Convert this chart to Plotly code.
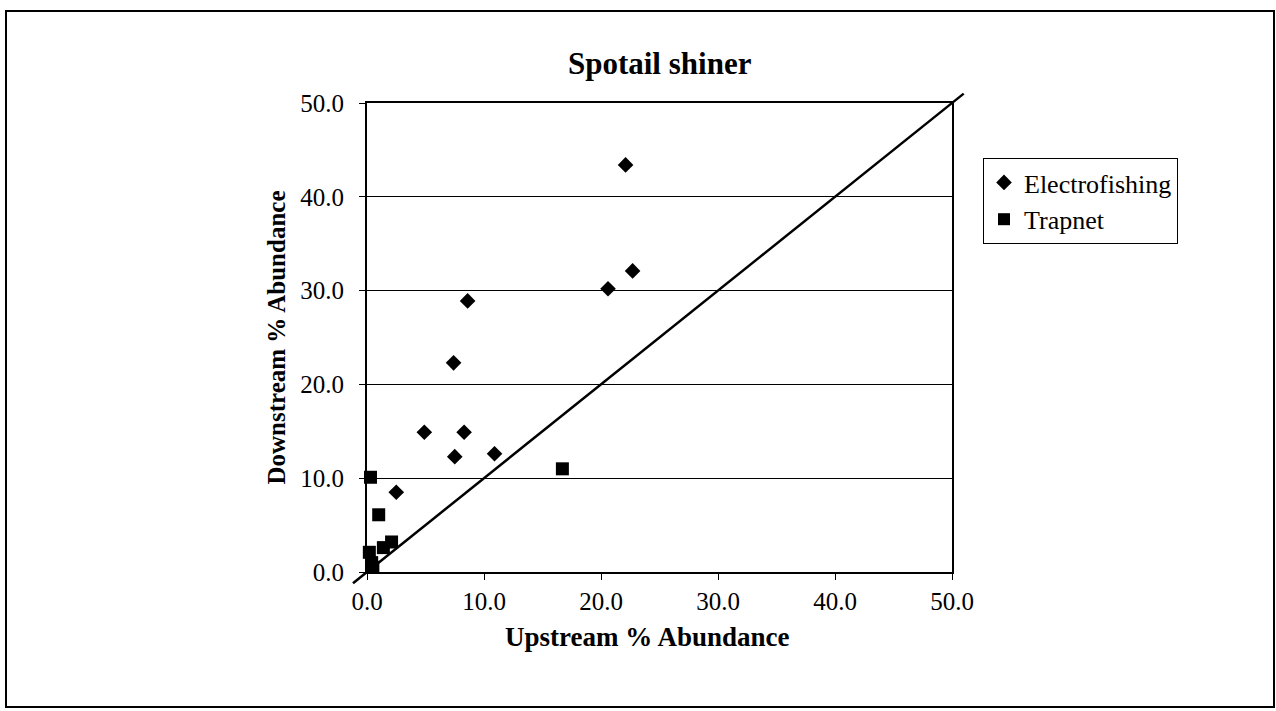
import plotly.graph_objects as go

# Percent abundance of spotail shiner, upstream vs downstream sites
electro_up = [22.1, 22.7, 20.6, 8.6, 7.4, 4.9, 8.3, 7.5, 10.9, 2.5]
electro_down = [43.4, 32.1, 30.2, 28.9, 22.3, 14.9, 14.9, 12.3, 12.6, 8.5]

trap_up = [0.3, 1.0, 2.1, 1.4, 0.2, 0.4, 0.5, 16.7]
trap_down = [10.1, 6.1, 3.2, 2.6, 2.1, 1.0, 0.5, 11.0]

axis_min, axis_max = 0.0, 50.0
tick_vals = [0, 10, 20, 30, 40, 50]
tick_text = ["0.0", "10.0", "20.0", "30.0", "40.0", "50.0"]

# 1:1 reference line, running a little past both ends of the axes
line_ends = [-1.2, 51.0]

FONT = "Liberation Serif, Times New Roman, serif"

fig = go.Figure()
fig.add_trace(go.Scatter(
    x=electro_up, y=electro_down, mode="markers", name="Electrofishing",
    marker=dict(symbol="diamond", size=12, color="black"),
    cliponaxis=False,
))
fig.add_trace(go.Scatter(
    x=trap_up, y=trap_down, mode="markers", name="Trapnet",
    marker=dict(symbol="square", size=13, color="black"),
    cliponaxis=False,
))

span = axis_max - axis_min
def to_paper(v):
    return (v - axis_min) / span

fig.add_shape(type="line", xref="paper", yref="paper",
              x0=to_paper(line_ends[0]), y0=to_paper(line_ends[0]),
              x1=to_paper(line_ends[1]), y1=to_paper(line_ends[1]),
              line=dict(color="black", width=2.5), layer="above")

# outer frame around the whole chart
L, T, W, H = 367, 103, 585, 469
fig.add_shape(type="rect", xref="paper", yref="paper",
              x0=(6 - L) / W, x1=(1274 - L) / W,
              y0=(T + H - 707) / H, y1=(T + H - 11) / H,
              line=dict(color="black", width=2), layer="below")

# x-axis title placed as an annotation below the tick labels
fig.add_annotation(
    text="<b>Upstream % Abundance</b>", xref="paper", yref="paper",
    x=(647 - L) / W, y=(T + H - 637) / H, xanchor="center", yanchor="middle",
    showarrow=False, font=dict(family=FONT, size=27, color="black"),
)

fig.update_layout(
    width=1276, height=711,
    margin=dict(l=L, r=1276 - L - W, t=T, b=711 - T - H),
    paper_bgcolor="white", plot_bgcolor="white",
    font=dict(family=FONT, size=24, color="black"),
    title=dict(text="<b>Spotail shiner</b>", x=0.517, xanchor="center",
               y=1 - 63 / 711, yanchor="middle",
               font=dict(family=FONT, size=31, color="black")),
    showlegend=True,
    legend=dict(x=(983 - L) / W, y=(T + H - 158) / H, xanchor="left", yanchor="top",
                bordercolor="black", borderwidth=1, bgcolor="white",
                font=dict(family=FONT, size=26, color="black"),
                itemsizing="constant", tracegroupgap=0),
)

fig.update_xaxes(
    range=[axis_min, axis_max], tickvals=tick_vals, ticktext=tick_text,
    showgrid=False, zeroline=False,
    showline=True, linecolor="black", linewidth=2, mirror=True,
    ticks="outside", ticklen=6, tickcolor="black",
    tickfont=dict(family=FONT, size=25),
)
fig.update_yaxes(
    range=[axis_min, axis_max], tickvals=tick_vals, ticktext=tick_text,
    showgrid=True, gridcolor="black", gridwidth=1, zeroline=False,
    showline=True, linecolor="black", linewidth=2, mirror=True,
    ticks="outside", ticklen=6, tickcolor="black", ticklabelstandoff=10,
    tickfont=dict(family=FONT, size=25),
    title=dict(text="<b>Downstream % Abundance</b>", standoff=8,
               font=dict(family=FONT, size=25)),
)

fig.write_html("out.html")
